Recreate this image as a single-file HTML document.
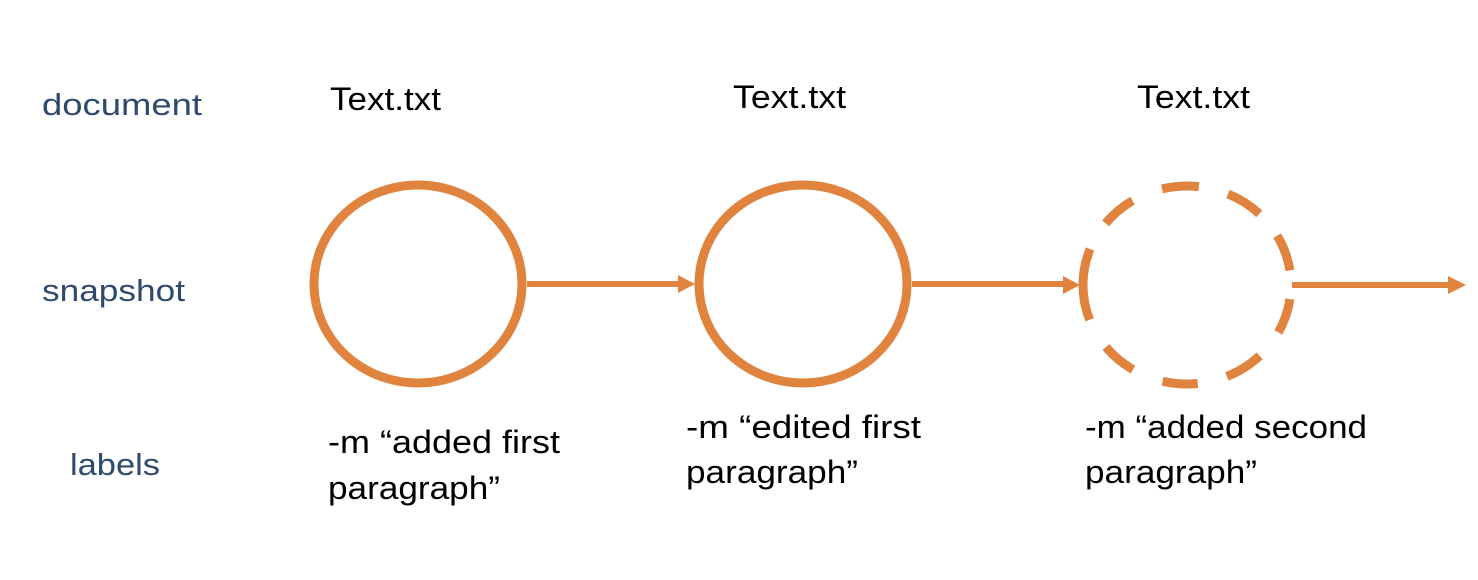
<!DOCTYPE html>
<html><head><meta charset="utf-8"><style>
html,body{margin:0;padding:0;background:#fff;}
svg{display:block;}
text{font-family:"Liberation Sans",sans-serif;}
</style></head><body>
<svg width="1478" height="580" viewBox="0 0 1478 580" xmlns="http://www.w3.org/2000/svg">
<g fill="#2E4A6E" font-size="31">
<text x="42" y="115" textLength="160" lengthAdjust="spacingAndGlyphs">document</text>
<text x="42" y="301" textLength="143" lengthAdjust="spacingAndGlyphs">snapshot</text>
<text x="70" y="475" textLength="90" lengthAdjust="spacingAndGlyphs">labels</text>
</g>
<g fill="#000" font-size="32">
<text x="330" y="110" textLength="111" lengthAdjust="spacingAndGlyphs">Text.txt</text>
<text x="733" y="108" textLength="113" lengthAdjust="spacingAndGlyphs">Text.txt</text>
<text x="1137" y="108" textLength="113" lengthAdjust="spacingAndGlyphs">Text.txt</text>
<text x="328" y="453" textLength="232" lengthAdjust="spacingAndGlyphs">-m “added first</text>
<text x="328" y="499" textLength="172" lengthAdjust="spacingAndGlyphs">paragraph”</text>
<text x="686" y="438" textLength="235" lengthAdjust="spacingAndGlyphs">-m “edited first</text>
<text x="686" y="483" textLength="172" lengthAdjust="spacingAndGlyphs">paragraph”</text>
<text x="1085" y="438" textLength="282" lengthAdjust="spacingAndGlyphs">-m “added second</text>
<text x="1085" y="483" textLength="172" lengthAdjust="spacingAndGlyphs">paragraph”</text>
</g>
<g fill="none" stroke="#E0833F" stroke-width="9">
<ellipse cx="418" cy="284" rx="104" ry="99"/>
<ellipse cx="803" cy="284" rx="104" ry="99"/>
<ellipse cx="1187" cy="285" rx="104" ry="99" pathLength="360" stroke-dasharray="0 8 20 17 22 17 20 18 20 18 41 17 20 18 21 17 21 16 21 8"/>
</g>
<g stroke="#E0833F" stroke-width="6">
<line x1="527" y1="284" x2="680" y2="284"/>
<line x1="912" y1="284" x2="1065" y2="284"/>
<line x1="1292" y1="285" x2="1448" y2="285"/>
</g>
<g fill="#E0833F">
<polygon points="678,275 695,284 678,293"/>
<polygon points="1063,276 1080,285 1063,294"/>
<polygon points="1448,276 1466,285 1448,294"/>
</g>
</svg>
</body></html>
